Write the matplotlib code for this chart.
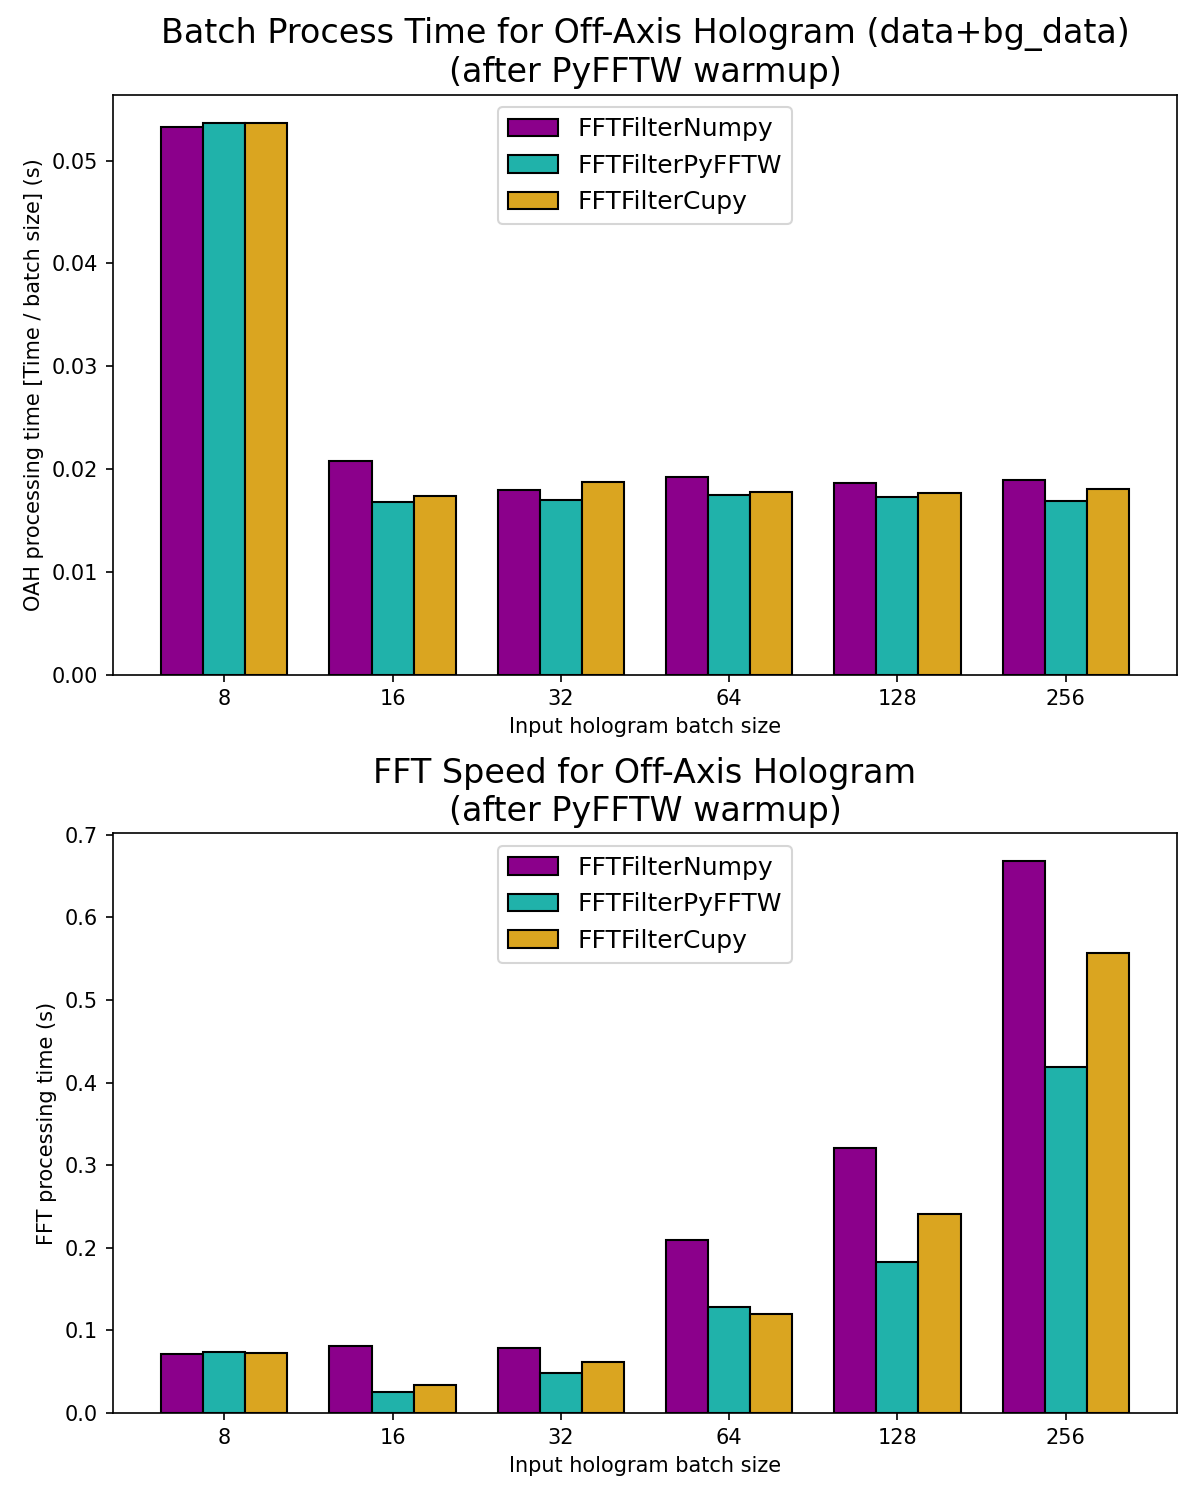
import numpy as np
import matplotlib.pyplot as plt

batch_sizes = ["8", "16", "32", "64", "128", "256"]
labels = ["FFTFilterNumpy", "FFTFilterPyFFTW", "FFTFilterCupy"]
colors = ["darkmagenta", "lightseagreen", "goldenrod"]

# tiempo por holograma (s)
oah_numpy = [0.0533, 0.0208, 0.0180, 0.0192, 0.0186, 0.0189]
oah_pyfftw = [0.0537, 0.0168, 0.0170, 0.0175, 0.0173, 0.0169]
oah_cupy = [0.0537, 0.0174, 0.0187, 0.0178, 0.0177, 0.0181]

# tiempo FFT (s)
fft_numpy = [0.0714, 0.0811, 0.0787, 0.2094, 0.3208, 0.6683]
fft_pyfftw = [0.0738, 0.0251, 0.0484, 0.1283, 0.1824, 0.4185]
fft_cupy = [0.0726, 0.0339, 0.0617, 0.1199, 0.2409, 0.5569]

x = np.arange(len(batch_sizes))
w = 0.25

fig, axs = plt.subplots(2, 1, figsize=(8, 10), dpi=150)

ax = axs[0]
for i, serie in enumerate([oah_numpy, oah_pyfftw, oah_cupy]):
    ax.bar(x + (i - 1) * w, serie, w, color=colors[i], edgecolor="black", label=labels[i])
ax.set_xticks(x)
ax.set_xticklabels(batch_sizes)
ax.set_xlabel("Input hologram batch size")
ax.set_ylabel("OAH processing time [Time / batch size] (s)")
ax.set_title("Batch Process Time for Off-Axis Hologram (data+bg_data)\n(after PyFFTW warmup)", fontsize=16)
ax.legend(loc="upper center", fontsize=12)

ax = axs[1]
for i, serie in enumerate([fft_numpy, fft_pyfftw, fft_cupy]):
    ax.bar(x + (i - 1) * w, serie, w, color=colors[i], edgecolor="black", label=labels[i])
ax.set_xticks(x)
ax.set_xticklabels(batch_sizes)
ax.set_xlabel("Input hologram batch size")
ax.set_ylabel("FFT processing time (s)")
ax.set_title("FFT Speed for Off-Axis Hologram\n(after PyFFTW warmup)", fontsize=16)
ax.legend(loc="upper center", fontsize=12)

plt.subplots_adjust(left=0.094, right=0.981, top=0.9367, bottom=0.058, hspace=0.274)
plt.savefig("out.png")
